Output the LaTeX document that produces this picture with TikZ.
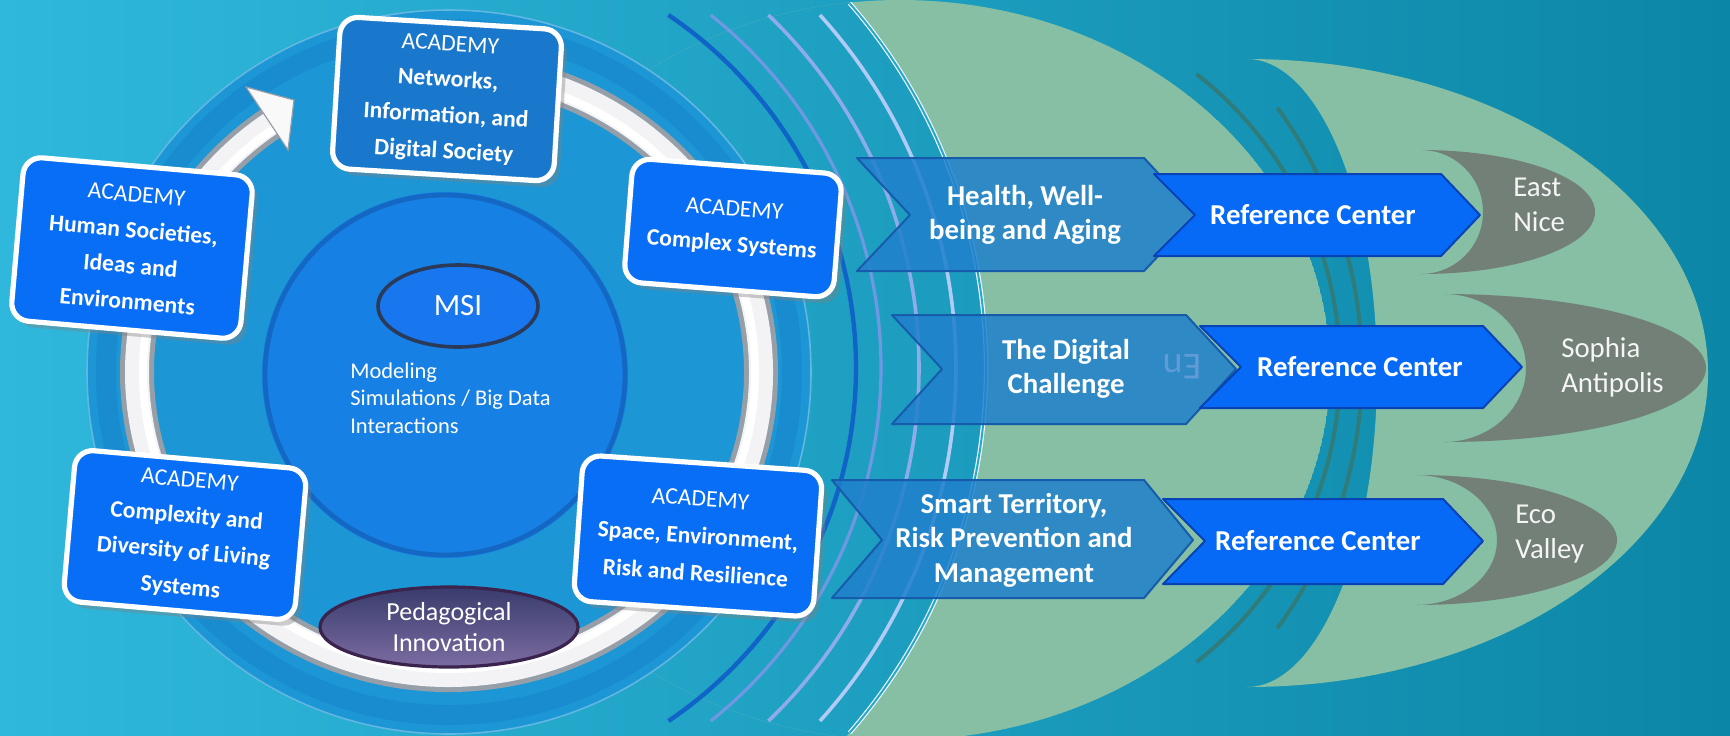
\documentclass[tikz,border=0pt]{standalone}
\usepackage{fontspec}
\setmainfont{Carlito}
\usetikzlibrary{shapes.geometric,shadows}

\definecolor{bgleft}{RGB}{47,184,220}
\definecolor{bgright}{RGB}{12,134,166}
\definecolor{disk}{RGB}{29,150,213}
\definecolor{diskband}{RGB}{24,140,207}
\definecolor{core}{RGB}{22,128,228}
\definecolor{corerim}{RGB}{20,104,196}
\definecolor{msiblue}{RGB}{24,118,238}
\definecolor{msirim}{RGB}{42,58,88}
\definecolor{acad}{RGB}{8,110,246}
\definecolor{acaddark}{RGB}{26,120,204}
\definecolor{ringgray}{RGB}{150,158,168}
\definecolor{sage}{RGB}{134,191,163}
\definecolor{moon}{RGB}{114,128,120}
\definecolor{tealline}{RGB}{48,124,122}
\definecolor{arcone}{RGB}{16,100,200}
\definecolor{arctwo}{RGB}{112,152,226}
\definecolor{arcthree}{RGB}{142,172,236}
\definecolor{arcfour}{RGB}{178,202,246}
\definecolor{chev}{RGB}{32,128,204}
\definecolor{chevrim}{RGB}{22,92,170}
\definecolor{refblue}{RGB}{6,106,246}
\definecolor{refrim}{RGB}{8,66,180}
\definecolor{pedtop}{RGB}{56,60,108}
\definecolor{pedbot}{RGB}{124,108,162}
\definecolor{pedrim}{RGB}{58,36,78}
\definecolor{ghostblue}{RGB}{95,155,215}

\begin{document}
\begin{tikzpicture}[x=0.25mm,y=-0.25mm,
  every node/.style={text=white,align=center,inner sep=0pt},
  academy/.style={draw=white,line width=1.3mm,fill=acad,rounded corners=4.5mm,
    drop shadow={opacity=0.4,shadow xshift=1.4mm,shadow yshift=-1.6mm},
    font=\fontsize{16.8}{25.5}\selectfont},
  chevron/.style={fill=chev,fill opacity=0.85,draw=chevrim,line width=0.5mm,line join=round},
  refbox/.style={fill=refblue,draw=refrim,line width=0.5mm,line join=round},
  arrowtext/.style={font=\bfseries\fontsize{20.5}{24.6}\selectfont},
  moonlabel/.style={align=left,anchor=west,text=white!92!moon,font=\fontsize{20.5}{25}\selectfont}]
  \useasboundingbox (0,0) rectangle (1730,735);
  \clip (0,0) rectangle (1730,735);
  \shade[left color=bgleft,right color=bgright] (0,0) rectangle (1730,735);

  % green lenses on the right
  \begin{scope}
    \clip (900,370) ellipse [x radius=430,y radius=370];
    \fill[sage,even odd rule] (900,370) ellipse [x radius=430,y radius=370] (430,368) circle [radius=556];
  \end{scope}
  \fill[sage] (1247,59) arc[start angle=-90,end angle=90,x radius=461,y radius=314]
    arc[start angle=90,end angle=-90,x radius=130,y radius=314] -- cycle;
  \draw[tealline,line width=1mm] (967,368) ++(-52:373) arc[start angle=-52,end angle=52,radius=373];
  \draw[tealline,line width=1mm] (919,368) ++(-36:443) arc[start angle=-36,end angle=36,radius=443];

  % waves
  \foreach \r/\c/\w in {426/arcone/1.1mm,451/arctwo/0.8mm,489/arcthree/0.9mm,526/arcfour/0.9mm}{
    \pgfmathsetmacro\a{asin(353/\r)}
    \draw[\c,line width=\w] (430,368) ++(-\a:\r) arc[start angle=-\a,end angle=\a,radius=\r];
  }
  \draw[white!80!arcfour,double=bgleft!70!bgright,double distance=0.5mm,line width=0.3mm]
    (430,368) ++(-41:556) arc[start angle=-41,end angle=41,radius=556];

  % disk and ring
  \fill[disk] (449,372) circle [radius=362];
  \draw[diskband,line width=5mm] (449,372) circle [radius=343];
  \draw[white!30!disk,line width=0.4mm] (449,372) circle [radius=362];
  \coordinate (ringc) at (449,372);
  \draw[ringgray,line width=8.5mm] (ringc) ++(-95:312 and 303) arc[start angle=-95,end angle=236,x radius=312,y radius=303];
  \draw[white!88!ringgray,line width=6mm] (ringc) ++(-95:312 and 303) arc[start angle=-95,end angle=236,x radius=312,y radius=303];
  \draw[white,line width=2mm] (ringc) ++(-95:306 and 297) arc[start angle=-95,end angle=236,x radius=306,y radius=297];
  \coordinate (headl) at (246,87);
  \coordinate (headr) at (288,150);
  \coordinate (headtip) at (294,100);
  \fill[white!94!ringgray,draw=ringgray,line width=0.3mm] (headl) -- (headtip) -- (headr) -- cycle;

  % core
  \fill[core] (445,375) circle [radius=183];
  \draw[corerim,line width=1.2mm] (445,375) circle [radius=180];
  \node[ellipse,fill=msiblue,draw=msirim,line width=0.9mm,minimum width=40mm,minimum height=20.5mm,
    font=\fontsize{22}{22}\selectfont] (msi) at (458,306) {MSI};
  \node[anchor=west,align=left,font=\fontsize{16}{19.5}\selectfont] (msitext) at (350,398)
    {Modeling\\Simulations / Big Data\\Interactions};

  % academies
  \node[academy,fill=acaddark,minimum width=55.5mm,minimum height=38mm,rotate=-3.5] (nets) at (447,99)
    {ACADEMY\\\textbf{Networks,}\\\textbf{Information, and}\\\textbf{Digital Society}};
  \node[academy,minimum width=57.5mm,minimum height=41mm,rotate=-5] (human) at (132,248)
    {ACADEMY\\\textbf{Human Societies,}\\\textbf{Ideas and}\\\textbf{Environments}};
  \node[academy,minimum width=52.5mm,minimum height=31mm,rotate=-4.5] (complex) at (733,228)
    {ACADEMY\\\textbf{Complex Systems}};
  \node[academy,minimum width=58mm,minimum height=38mm,rotate=-5] (living) at (185,535)
    {ACADEMY\\\textbf{Complexity and}\\\textbf{Diversity of Living}\\\textbf{Systems}};
  \node[academy,minimum width=60mm,minimum height=36.5mm,rotate=-4,
    font=\fontsize{16.8}{26.5}\selectfont] (space) at (698,536)
    {ACADEMY\\\textbf{Space, Environment,}\\\textbf{Risk and Resilience}};
  \node[ellipse,draw=pedrim,line width=0.8mm,top color=pedtop,bottom color=pedbot,
    minimum width=64.5mm,minimum height=20mm,font=\fontsize{18.5}{22.5}\selectfont] (pedago) at (449,627)
    {Pedagogical\\Innovation};

  % challenges and reference centers
  \path[chevron] (857,158) -- (1144,158) -- (1197,215) -- (1144,271) -- (857,271) -- (910,215) -- cycle;
  \path[refbox] (1154,174) -- (1441,174) -- (1480,215) -- (1441,256) -- (1154,256) -- (1195,215) -- cycle;
  \node[arrowtext] (health) at (1025,215) {Health, Well-\\being and Aging};
  \node[arrowtext] (refone) at (1313,215) {Reference Center};

  \path[chevron] (892,315) -- (1186,315) -- (1236,369) -- (1186,424) -- (892,424) -- (942,369) -- cycle;
  \path[refbox] (1200,326) -- (1483,326) -- (1522,367) -- (1483,408) -- (1200,408) -- (1241,367) -- cycle;
  \node[arrowtext] (digital) at (1066,369) {The Digital\\Challenge};
  \node[rotate=180,text=ghostblue,font=\fontsize{27}{27}\selectfont] (ghost) at (1182,367) {En};
  \node[arrowtext] (reftwo) at (1360,367) {Reference Center};

  \path[chevron] (832,480) -- (1144,480) -- (1193,540) -- (1144,598) -- (832,598) -- (882,540) -- cycle;
  \path[refbox] (1163,499) -- (1443,499) -- (1483,541) -- (1443,584) -- (1163,584) -- (1205,541) -- cycle;
  \node[arrowtext] (smart) at (1014,540) {Smart Territory,\\Risk Prevention and\\Management};
  \node[arrowtext] (refthree) at (1318,541) {Reference Center};

  % sites
  \fill[moon] (1421,150) arc[start angle=-90,end angle=90,x radius=174,y radius=62]
    arc[start angle=90,end angle=-90,x radius=62,y radius=62] -- cycle;
  \fill[moon] (1444,294) arc[start angle=-90,end angle=90,x radius=262,y radius=74]
    arc[start angle=90,end angle=-90,x radius=82,y radius=74] -- cycle;
  \fill[moon] (1416,475) arc[start angle=-90,end angle=90,x radius=201,y radius=65]
    arc[start angle=90,end angle=-90,x radius=81,y radius=65] -- cycle;
  \node[moonlabel] (eastnice) at (1513,205) {East\\Nice};
  \node[moonlabel] (sophia) at (1561,367) {Sophia\\Antipolis};
  \node[moonlabel] (ecovalley) at (1515,534) {Eco\\Valley};
\end{tikzpicture}
\end{document}
